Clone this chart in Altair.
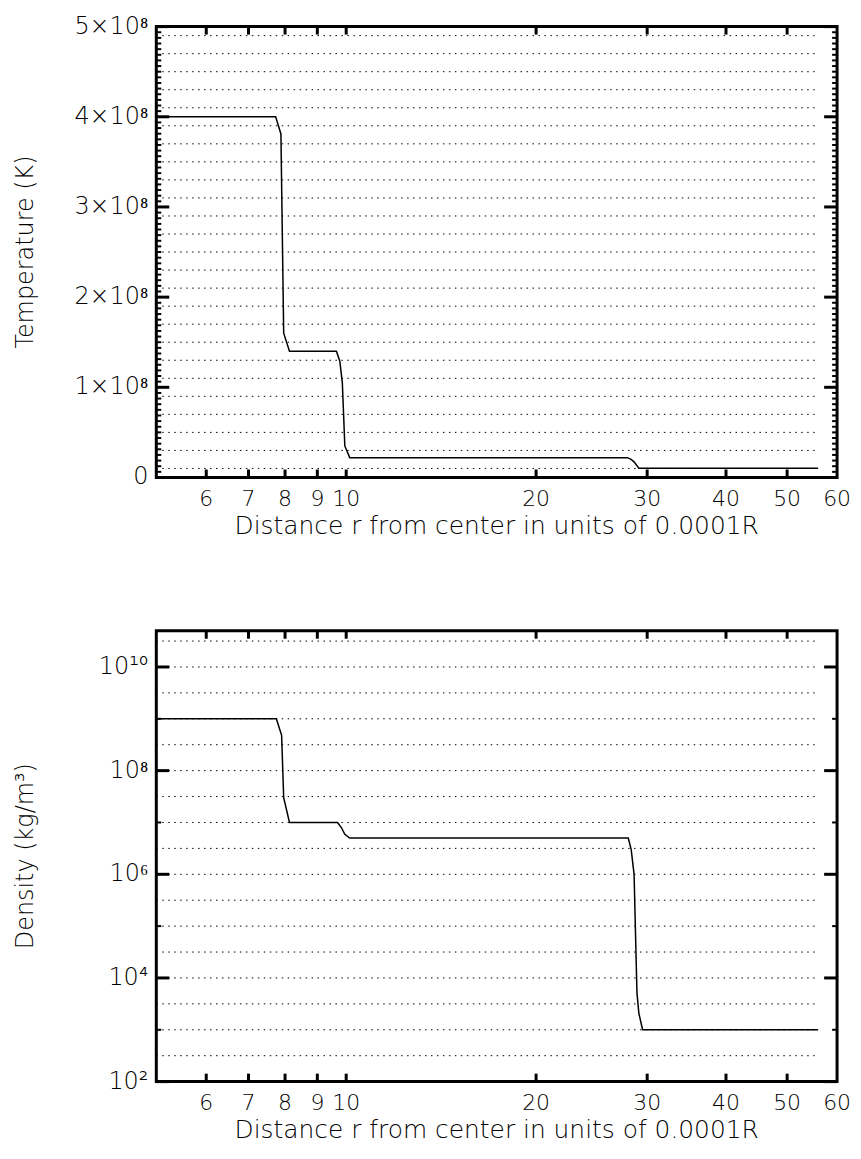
import math
import altair as alt
import pandas as pd

# ---------------- data ----------------
# Temperature profile (r in units of 0.0001R, T in K)
r_T = [5.0, 7.73, 7.88, 7.96, 8.13, 9.65, 9.77, 9.86, 9.95, 10.13,
       27.9, 28.25, 28.6, 29.1, 56.0]
T_vals = [4.0e8, 4.0e8, 3.81e8, 1.60e8, 1.40e8, 1.40e8, 1.29e8, 1.05e8,
          3.5e7, 2.2e7, 2.2e7, 2.04e7, 1.73e7, 1.03e7, 1.03e7]

# Density profile (kg/m^3)
r_rho = [5.0, 7.75, 7.9, 7.96, 8.13, 9.69, 9.83, 9.95, 10.13, 28.0,
         28.3, 28.6, 28.9, 29.1, 29.5, 56.0]
rho_vals = [1.0e9, 1.0e9, 4.8e8, 3.0e7, 1.0e7, 1.0e7, 7.9e6, 5.9e6, 5.0e6,
            5.0e6, 3.0e6, 1.0e6, 5.2e3, 2.1e3, 1.0e3, 1.0e3]

# dotted horizontal reference lines (drawn over the data r-range)
grid_T = [1e7, 3e7, 5e7, 7e7, 9e7, 1.1e8, 1.3e8, 1.5e8, 1.7e8, 1.9e8,
          2.1e8, 2.3e8, 2.5e8, 2.7e8, 2.9e8, 3.1e8, 3.3e8, 3.5e8, 3.7e8,
          3.9e8, 4.1e8, 4.3e8, 4.5e8, 4.7e8, 4.9e8]
grid_rho = [10 ** 2.5, 1e3, 10 ** 3.5, 1e4, 10 ** 4.5, 1e5, 10 ** 5.5, 1e6,
            10 ** 6.5, 1e7, 10 ** 7.5, 1e8, 10 ** 8.5, 1e9, 10 ** 9.5,
            1e10, 10 ** 10.5]
grid_r = [5.0, 56.0]

# axis ticks / labels
x_ticks = [6, 7, 8, 9, 10, 20, 30, 40, 50]
x_labels = [6, 7, 8, 9, 10, 20, 30, 40, 50, 60]
x_label_text = ["6", "7", "8", "9", "10", "20", "30", "40", "50", "60"]
x_domain = [5, 60]

T_major = [0, 1e8, 2e8, 3e8, 4e8, 5e8]
T_labels = ["0", "1×10⁸", "2×10⁸", "3×10⁸", "4×10⁸", "5×10⁸"]
T_minor_step = 6.25e6
T_domain = [0, 5e8]

rho_major = [1e2, 1e4, 1e6, 1e8, 1e10]
rho_labels = ["10²", "10⁴", "10⁶", "10⁸", "10¹⁰"]
rho_minor = [1e3, 1e5, 1e7, 1e9]
rho_domain = [1e2, 5e10]

x_title = "Distance r from center in units of 0.0001R"
T_title = "Temperature (K)"
rho_title = "Density (kg/m³)"

# ---------------- layout ----------------
W, H = 684, 453
FONT = "DejaVu Sans"
WEIGHT = 200
X_TICK_LEN, Y_MAJOR_LEN, Y_MINOR_LEN = 8, 13, 5

T_minor = [k * T_minor_step for k in range(1, 80) if k % 16 != 0]


def inward(v, lo, hi, frac, log):
    """value lying `frac` of the axis length inward from v (towards the other end)"""
    if log:
        step = (hi / lo) ** frac
        return v * step if v == lo else v / step
    step = (hi - lo) * frac
    return v + step if v == lo else v - step


def panel(r, yv, ydomain, ytype, grid_vals, y_major, y_labels, y_minor, ytitle):
    ylog = ytype == "log"
    xs = alt.Scale(type="log", domain=x_domain, nice=False)
    if ylog:
        ys = alt.Scale(type="log", domain=ydomain, nice=False)
        y_mid = math.sqrt(ydomain[0] * ydomain[1])
    else:
        ys = alt.Scale(type="linear", domain=ydomain, nice=False, zero=False)
        y_mid = (ydomain[0] + ydomain[1]) / 2
    x_mid = math.sqrt(x_domain[0] * x_domain[1])

    X = lambda f="r": alt.X(f"{f}:Q", scale=xs, axis=None)
    Y = lambda f="v": alt.Y(f"{f}:Q", scale=ys, axis=None)

    line_df = pd.DataFrame({"r": r, "v": yv})
    grid_df = pd.DataFrame({"v": grid_vals,
                            "r": [grid_r[0]] * len(grid_vals),
                            "r2": [grid_r[1]] * len(grid_vals)})

    layers = []
    layers.append(alt.Chart(grid_df).mark_rule(color="black", strokeWidth=1,
                                               strokeDash=[1.5, 4.5]).encode(
        x=X(), x2="r2:Q", y=Y()))
    layers.append(alt.Chart(line_df).mark_line(color="black", strokeWidth=1.5)
                  .encode(x=X(), y=Y()))

    # inward tick marks on all four sides of the box (drawn as short rules)
    lo, hi = ydomain
    n = len(x_ticks)
    for end in (lo, hi):
        df = pd.DataFrame({"r": x_ticks, "v": [end] * n,
                           "v2": [inward(end, lo, hi, X_TICK_LEN / H, ylog)] * n})
        layers.append(alt.Chart(df).mark_rule(color="black", strokeWidth=3)
                      .encode(x=X(), y=Y(), y2="v2:Q"))
    xlo, xhi = x_domain
    for vals, length, width in ((y_major, Y_MAJOR_LEN, 3), (y_minor, Y_MINOR_LEN, 2)):
        m = len(vals)
        for end in (xlo, xhi):
            df = pd.DataFrame({"r": [end] * m, "v": vals,
                               "r2": [inward(end, xlo, xhi, length / W, True)] * m})
            layers.append(alt.Chart(df).mark_rule(color="black", strokeWidth=width)
                          .encode(x=X(), x2="r2:Q", y=Y()))

    # tick labels and axis titles as text
    txt = dict(font=FONT, fontWeight=WEIGHT, color="black")
    xl = pd.DataFrame({"r": x_labels, "v": [lo] * len(x_labels), "t": x_label_text})
    layers.append(alt.Chart(xl).mark_text(align="center", baseline="top", dy=12,
                                          fontSize=22, **txt)
                  .encode(x=X(), y=Y(), text="t:N"))
    yl_df = pd.DataFrame({"r": [xlo] * len(y_major), "v": y_major, "t": y_labels})
    layers.append(alt.Chart(yl_df).mark_text(align="right", baseline="middle", dx=-8,
                                             fontSize=24, **txt)
                  .encode(x=X(), y=Y(), text="t:N"))
    xtitle_df = pd.DataFrame({"r": [x_mid], "v": [lo], "t": [x_title]})
    layers.append(alt.Chart(xtitle_df).mark_text(align="center", baseline="alphabetic",
                                                 dy=57, fontSize=25, **txt)
                  .encode(x=X(), y=Y(), text="t:N"))
    ytitle_df = pd.DataFrame({"r": [xlo], "v": [y_mid], "t": [ytitle]})
    layers.append(alt.Chart(ytitle_df).mark_text(align="center", baseline="middle",
                                                 angle=270, dy=-131, fontSize=24, **txt)
                  .encode(x=X(), y=Y(), text="t:N"))
    return alt.layer(*layers).properties(width=W, height=H)


top = panel(r_T, T_vals, T_domain, "linear", grid_T, T_major, T_labels, T_minor,
            T_title)
bottom = panel(r_rho, rho_vals, rho_domain, "log", grid_rho, rho_major, rho_labels,
               rho_minor, rho_title)

chart = alt.vconcat(top, bottom, spacing=154, bounds="flush").properties(
    padding={"left": 4, "top": 2, "right": 0, "bottom": 0},
    background="white",
).configure_view(stroke="black", strokeWidth=3)

chart.save("out.html", embed_options={"renderer": "svg", "actions": False})
